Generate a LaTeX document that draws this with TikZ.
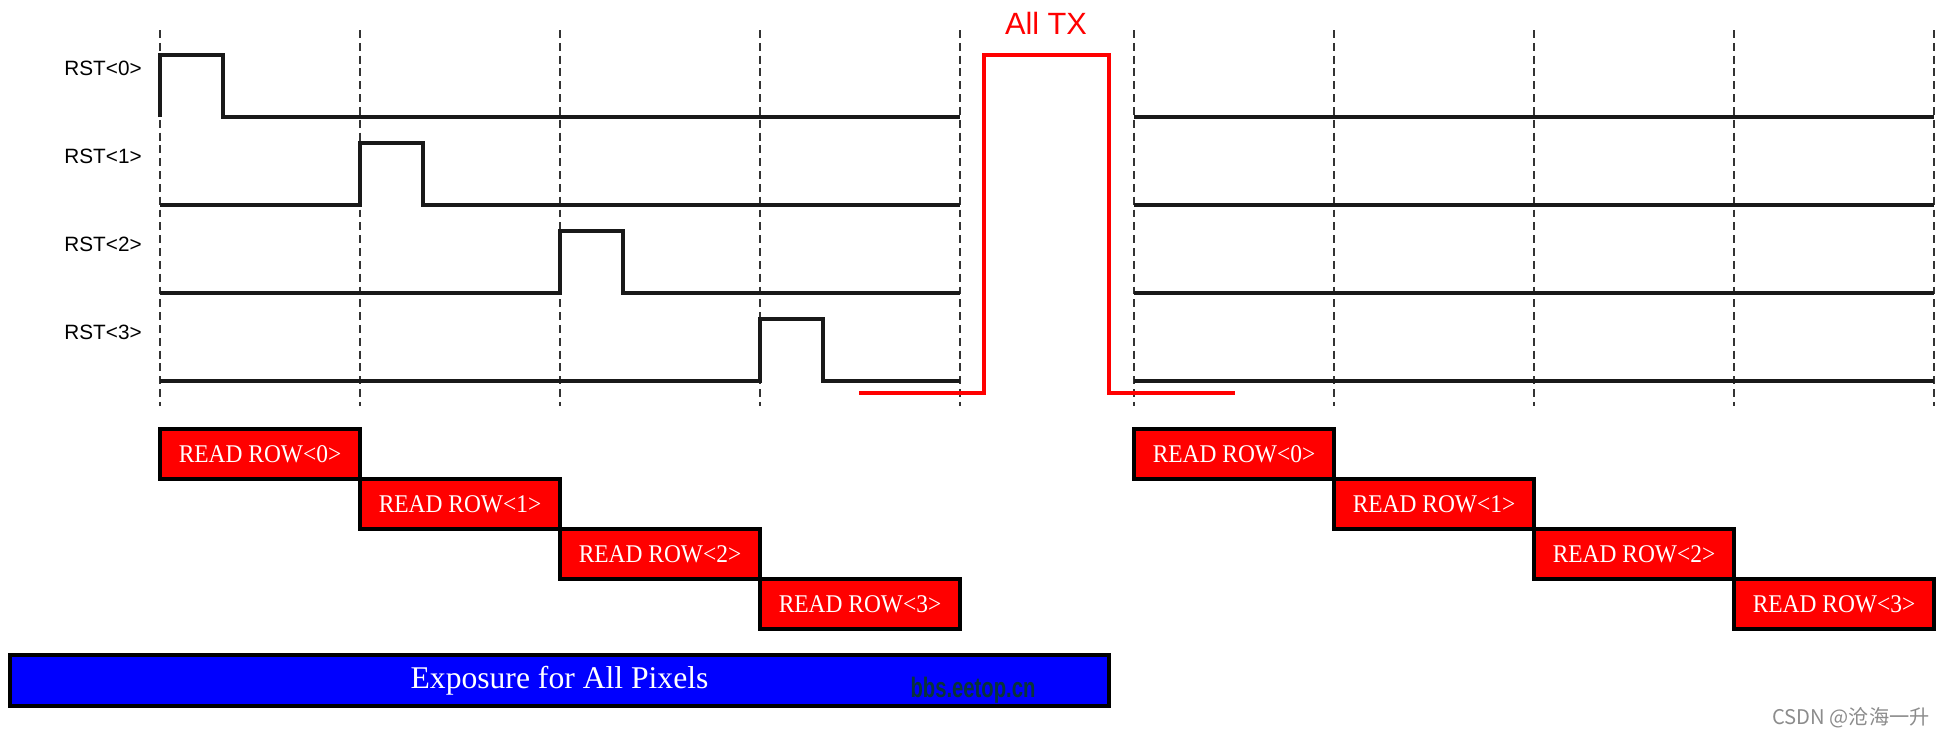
\documentclass[tikz,border=0pt]{standalone}
\usepackage{fontspec}
\setmainfont{Liberation Serif}
\setsansfont{Liberation Sans}
\newfontfamily\cjk{Noto Sans CJK SC}
\usetikzlibrary{positioning}
\definecolor{wmteal}{HTML}{0A3438}
\tikzset{
  timemark/.style={dash pattern=on 4.5pt off 2.8pt, line width=0.9pt, black!80},
  sig/.style={line width=2pt, black!90},
  txsig/.style={line width=1.9pt, red},
  rstlabel/.style={anchor=east, inner sep=0pt, font=\sffamily\fontsize{11.8}{12}\selectfont},
  txlabel/.style={inner sep=0pt, text=red, font=\sffamily\fontsize{17.5}{18}\selectfont},
  readbox/.style={draw, line width=2pt, fill=red, text=white, inner sep=0pt, minimum width=4cm, minimum height=1cm, font=\fontsize{14.5}{14.5}\selectfont},
  expbox/.style={draw, line width=2pt, fill=blue, text=white, inner sep=0pt, minimum width=21.98cm, minimum height=1.02cm, font=\fontsize{18}{18}\selectfont}
}
\newcommand{\rowtext}[1]{\scalebox{0.92}[1]{READ ROW<#1>}}

\begin{document}
\begin{tikzpicture}[x=0.02cm, y=-0.02cm]
\useasboundingbox (0,0) rectangle (1948,738);
% time marks
\foreach \i in {0,...,4} {
  \draw[timemark] (160+200*\i,30) -- (160+200*\i,406);
  \draw[timemark] (1134+200*\i,30) -- (1134+200*\i,406);
}
% reset pulses, one row each
\foreach \k in {0,...,3} {
  \pgfmathsetmacro{\ylow}{117+88*\k}
  \pgfmathsetmacro{\yhigh}{\ylow-62}
  \pgfmathsetmacro{\xrise}{160+200*\k}
  \node[rstlabel] (rst\k) at (142,\yhigh+13) {RST<\k>};
  \draw[sig] (160,\ylow) -- (\xrise,\ylow) -- (\xrise,\yhigh) -- (\xrise+63,\yhigh) -- (\xrise+63,\ylow) -- (960,\ylow);
  \draw[sig] (1134,\ylow) -- (1934,\ylow);
}
% global transfer
\draw[txsig] (859,393) -- (984,393) -- (984,55) -- (1109,55) -- (1109,393) -- (1235,393);
\node[txlabel] (tx) at (1046,23) {All TX};
% readout
\foreach \k in {0,...,3} {
  \node[readbox] (rdA\k) at (260+200*\k,454+50*\k) {\rowtext{\k}};
  \node[readbox] (rdB\k) at (1234+200*\k,454+50*\k) {\rowtext{\k}};
}
\node[expbox] (exp) at (559.5,680.5) {Exposure for All Pixels};
\node[inner sep=0pt, text=wmteal, font=\sffamily\bfseries\fontsize{16}{16}\selectfont] (wm) at (973,690) {\scalebox{0.72}[1]{bbs.eetop.cn}};
\node[inner sep=0pt, text=black!45, font=\cjk\fontsize{11.5}{12}\selectfont] (csdn) at (1851,718) {CSDN @沧海一升};
\end{tikzpicture}
\end{document}
